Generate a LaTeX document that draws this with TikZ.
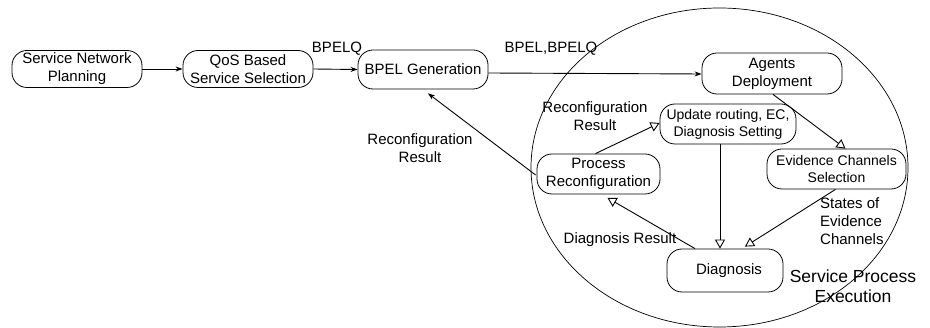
\documentclass[tikz,border=0pt]{standalone}
\usepackage{fontspec}
\setmainfont{Liberation Sans}
\usetikzlibrary{arrows.meta,calc}
\begin{document}
\begin{tikzpicture}[x=1pt,y=-1pt,
  box/.style={draw,rounded corners=15pt,line width=0.8pt,align=center,inner sep=0pt,
    font=\fontsize{15}{18}\selectfont},
  smallbox/.style={box,font=\fontsize{14}{17}\selectfont},
  lbl/.style={inner sep=0pt,font=\fontsize{15}{18}\selectfont},
  flow/.style={line width=0.9pt,-{Stealth[length=7pt,width=5pt]}},
  oflow/.style={line width=0.9pt,-{Triangle[open,length=9pt,width=10pt]}}]
\useasboundingbox (0,0) rectangle (930,328);
% ellipse
\draw[line width=0.7pt] (719.5,167.5) ellipse [x radius=188.5, y radius=159.5];
% nodes
\node[box,minimum width=130pt,minimum height=37pt] (snp) at (77,69) {Service Network\\Planning};
\node[box,minimum width=130pt,minimum height=37pt] (qos) at (248,69) {QoS Based\\Service Selection};
\node[box,minimum width=130pt,minimum height=39pt] (bpel) at (423,69.5) {BPEL Generation};
\node[box,minimum width=140pt,minimum height=41pt] (ad) at (772,73.5) {Agents\\Deployment};
\node[smallbox,minimum width=136pt,minimum height=40pt] (ur) at (728,124) {Update routing, EC,\\Diagnosis Setting};
\node[smallbox,minimum width=139pt,minimum height=40pt] (ecs) at (836.5,169) {Evidence Channels\\Selection};
\node[box,minimum width=123pt,minimum height=40pt] (pr) at (598.5,174) {Process\\Reconfiguration};
\node[box,minimum width=116pt,minimum height=43pt] (diag) at (725,270.5) {\hspace{8pt}Diagnosis};
% labels
\node[lbl,anchor=base] (l1) at (337,53) {BPELQ};
\node[lbl,anchor=base] (l2) at (551,53) {BPEL,BPELQ};
\node[lbl,align=center] (l3) at (420,148) {Reconfiguration\\Result};
\node[lbl,align=center] (l4) at (595,116.5) {Reconfiguration\\Result};
\node[lbl,anchor=base] (l5) at (620,244) {Diagnosis Result};
\node[lbl,align=left,anchor=west] (l6) at (820,221) {States of\\Evidence\\Channels};
\node[inner sep=0pt,align=center,font=\fontsize{17.5}{20}\selectfont] (l7) at (853,286.5) {Service Process\\Execution};
% connectors
\draw[flow] (snp.east) -- (qos.west);
\draw[flow] (qos.east) -- (bpel.west);
\draw[flow] ([yshift=-3.5pt]bpel.east) -- ([yshift=-0.5pt]ad.west);
\draw[flow] ($(pr.west)+(-1,1)$) -- ($(bpel.south)+(5,4)$);
\draw[oflow] ([xshift=-3pt]pr.north) -- ([yshift=1pt]ur.west);
\draw[oflow] ([xshift=1pt]ad.south) -- ([xshift=9pt]ecs.north);
\draw[oflow] ([xshift=-8pt]ur.south) -- ([xshift=-8pt]ur.south |- diag.north);
\draw[oflow] ([xshift=-1pt]ecs.south) -- ($(diag.north)+(20,-2)$);
\draw[oflow] ($(diag.north)+(-30,0)$) -- ($(pr.south)+(9,3.5)$);
\end{tikzpicture}
\end{document}
